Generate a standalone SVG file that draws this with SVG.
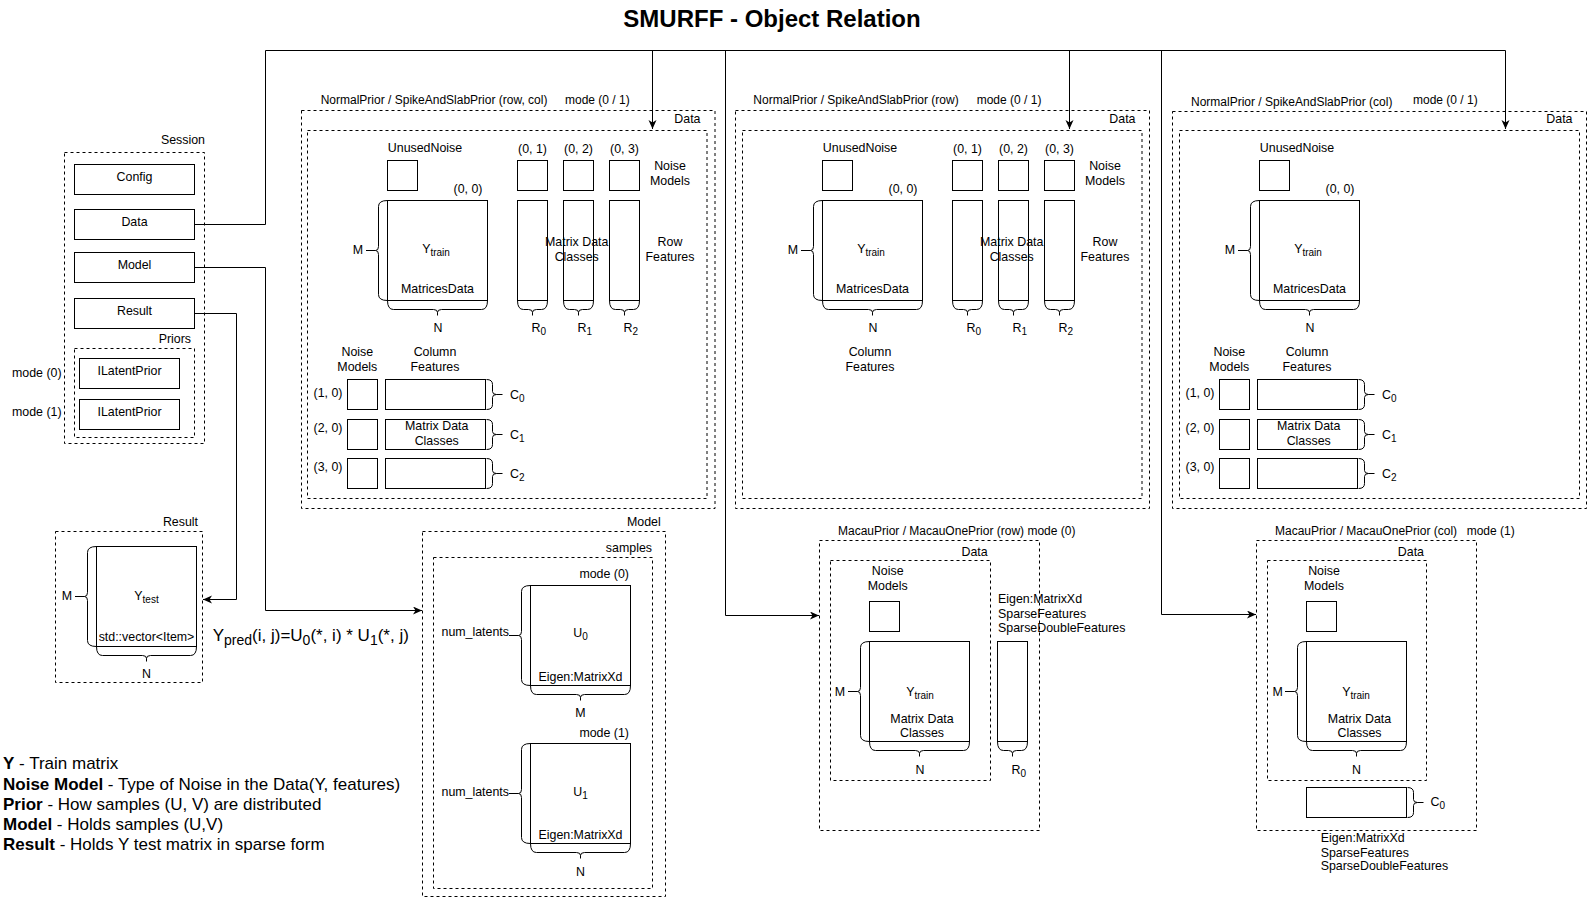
<svg xmlns="http://www.w3.org/2000/svg" width="1587" height="899" viewBox="0 0 1587 899">
<style>
text{font-family:"Liberation Sans",Arial,Helvetica,sans-serif;font-size:12.4px;fill:#000}
.h{font-size:12px}
.m{text-anchor:middle}
.e{text-anchor:end}
.b{fill:#fff;stroke:#000;stroke-width:1}
.d{fill:none;stroke:#000;stroke-width:1;stroke-dasharray:3 3}
.br{fill:none;stroke:#000;stroke-width:1}
.c{fill:none;stroke:#000;stroke-width:1}
.s{font-size:10px}
.lg{font-size:17px}
.f{font-size:17px}
.fs{font-size:14px}
.ttl{font-size:24px;font-weight:bold}
</style>
<defs>
<marker id="arr" markerUnits="userSpaceOnUse" markerWidth="10" markerHeight="10" refX="9" refY="4" orient="auto"><path d="M0,0 L9,4 L0,8 L2.5,4 Z" fill="#000"/></marker>
<path id="bM" class="br" d="M0,0 Q-9,0 -9,6 V46 Q-9,50 -12,50 Q-9,50 -9,54 V94 Q-9,100 0,100 M-21.5,50 H-12"/>
<path id="bN" class="br" d="M0,0 Q0,9 6,9 H46 Q50,9 50,12 Q50,9 54,9 H94 Q100,9 100,0 M50,12 V15"/>
<path id="bR" class="br" d="M0,0 Q0,9 6,9 H11 Q15,9 15,12 Q15,9 19,9 H24 Q30,9 30,0 M15,12 V15"/>
<path id="bC" class="br" d="M1,0 Q7,0 7,5 V12 Q7,15 11,15 Q7,15 7,18 V25 Q7,30 1,30 M11,15 H17"/>
</defs>
<rect width="1587" height="899" fill="#fff"/>

<g id="title"><text class="m ttl" x="772" y="26.5">SMURFF - Object Relation</text></g>

<g id="connectors">
<path class="c" d="M194,224.5 H265.5 V50.5 H1505.5 V129" marker-end="url(#arr)"/>
<path class="c" d="M652.5,50.5 V129" marker-end="url(#arr)"/>
<path class="c" d="M1069.5,50.5 V129" marker-end="url(#arr)"/>
<path class="c" d="M725.5,50.5 V615.5 H819" marker-end="url(#arr)"/>
<path class="c" d="M1161.5,50.5 V614.5 H1256" marker-end="url(#arr)"/>
<path class="c" d="M194,267.5 H265.5 V610.5 H422" marker-end="url(#arr)"/>
<path class="c" d="M194,313.5 H236.5 V599.5 H203" marker-end="url(#arr)"/>
</g>

<g id="session">
<text class="e" x="205" y="144">Session</text>
<rect class="d" x="64.5" y="152.5" width="140" height="291"/>
<rect class="b" x="74.5" y="164.5" width="120" height="30"/>
<text class="m" x="134.5" y="180.5">Config</text>
<rect class="b" x="74.5" y="209.5" width="120" height="30"/>
<text class="m" x="134.5" y="225.5">Data</text>
<rect class="b" x="74.5" y="252.5" width="120" height="30"/>
<text class="m" x="134.5" y="269">Model</text>
<rect class="b" x="74.5" y="298.5" width="120" height="30"/>
<text class="m" x="134.5" y="315">Result</text>
<text class="e" x="191" y="343">Priors</text>
<rect class="d" x="74.5" y="348.5" width="120" height="89"/>
<rect class="b" x="79.5" y="358.5" width="100" height="30"/>
<text class="m" x="129.5" y="374.5">ILatentPrior</text>
<rect class="b" x="79.5" y="399.5" width="100" height="30"/>
<text class="m" x="129.5" y="415.5">ILatentPrior</text>
<text x="12" y="377">mode (0)</text>
<text x="12" y="416">mode (1)</text>
</g>

<g id="prior-rowcol">
<text class="h" x="320.7" y="104">NormalPrior / SpikeAndSlabPrior (row, col)</text>
<text class="h" x="565" y="104">mode (0 / 1)</text>
<rect class="d" x="301.5" y="110.5" width="413.5" height="398"/>
<text class="e" x="700.5" y="123">Data</text>
<rect class="d" x="307.5" y="130.5" width="399.5" height="368"/>
<text class="m" x="425" y="152">UnusedNoise</text>
<rect class="b" x="387.5" y="160.5" width="30" height="30"/>
<text class="m" x="468" y="193">(0, 0)</text>
<rect class="b" x="387.5" y="200.5" width="100" height="100"/>
<use href="#bM" x="387.5" y="200.5"/>
<use href="#bN" x="387.5" y="300.5"/>
<text class="m" x="358" y="254">M</text>
<text class="m" x="438" y="332">N</text>
<text class="m" x="436" y="253">Y<tspan class="s" dy="3">train</tspan></text>
<text class="m" x="437.5" y="293">MatricesData</text>
<text class="m" x="532.5" y="153">(0, 1)</text>
<text class="m" x="578.5" y="153">(0, 2)</text>
<text class="m" x="624.5" y="153">(0, 3)</text>
<rect class="b" x="517.5" y="160.5" width="30" height="30"/>
<rect class="b" x="563.5" y="160.5" width="30" height="30"/>
<rect class="b" x="609.5" y="160.5" width="30" height="30"/>
<rect class="b" x="517.5" y="200.5" width="30" height="100"/>
<rect class="b" x="563.5" y="200.5" width="30" height="100"/>
<rect class="b" x="609.5" y="200.5" width="30" height="100"/>
<use href="#bR" x="517.5" y="300.5"/>
<use href="#bR" x="563.5" y="300.5"/>
<use href="#bR" x="609.5" y="300.5"/>
<text x="531.5" y="332">R<tspan class="s" dy="3">0</tspan></text>
<text x="577.5" y="332">R<tspan class="s" dy="3">1</tspan></text>
<text x="623.5" y="332">R<tspan class="s" dy="3">2</tspan></text>
<text class="m" x="670" y="170">Noise</text>
<text class="m" x="670" y="184.7">Models</text>
<text class="m" x="670" y="246.3">Row</text>
<text class="m" x="670" y="260.7">Features</text>
<text class="m" x="576.7" y="246.3">Matrix Data</text>
<text class="m" x="576.7" y="260.7">Classes</text>
<text class="m" x="357.3" y="355.7">Noise</text>
<text class="m" x="357.3" y="370.7">Models</text>
<text class="m" x="435" y="355.7">Column</text>
<text class="m" x="435" y="370.7">Features</text>
<rect class="b" x="347.5" y="379.5" width="30" height="30"/>
<rect class="b" x="385.5" y="379.5" width="100" height="30"/>
<use href="#bC" x="485.5" y="379.5"/>
<rect class="b" x="347.5" y="419.5" width="30" height="30"/>
<rect class="b" x="385.5" y="419.5" width="100" height="30"/>
<use href="#bC" x="485.5" y="419.5"/>
<rect class="b" x="347.5" y="458.5" width="30" height="30"/>
<rect class="b" x="385.5" y="458.5" width="100" height="30"/>
<use href="#bC" x="485.5" y="458.5"/>
<text class="m" x="328" y="397.3">(1, 0)</text>
<text class="m" x="328" y="432.3">(2, 0)</text>
<text class="m" x="328" y="470.7">(3, 0)</text>
<text x="510" y="399">C<tspan class="s" dy="3">0</tspan></text>
<text x="510" y="439">C<tspan class="s" dy="3">1</tspan></text>
<text x="510" y="478">C<tspan class="s" dy="3">2</tspan></text>
<text class="m" x="436.7" y="429.7">Matrix Data</text>
<text class="m" x="436.7" y="444.7">Classes</text>
</g>

<g id="prior-row">
<text class="h" x="753.3" y="104">NormalPrior / SpikeAndSlabPrior (row)</text>
<text class="h" x="976.7" y="104">mode (0 / 1)</text>
<rect class="d" x="735.5" y="110.5" width="414" height="398"/>
<text class="e" x="1135.5" y="123">Data</text>
<rect class="d" x="742.5" y="130.5" width="399.5" height="368"/>
<text class="m" x="860" y="152">UnusedNoise</text>
<rect class="b" x="822.5" y="160.5" width="30" height="30"/>
<text class="m" x="903" y="193">(0, 0)</text>
<rect class="b" x="822.5" y="200.5" width="100" height="100"/>
<use href="#bM" x="822.5" y="200.5"/>
<use href="#bN" x="822.5" y="300.5"/>
<text class="m" x="793" y="254">M</text>
<text class="m" x="873" y="332">N</text>
<text class="m" x="871" y="253">Y<tspan class="s" dy="3">train</tspan></text>
<text class="m" x="872.5" y="293">MatricesData</text>
<text class="m" x="967.5" y="153">(0, 1)</text>
<text class="m" x="1013.5" y="153">(0, 2)</text>
<text class="m" x="1059.5" y="153">(0, 3)</text>
<rect class="b" x="952.5" y="160.5" width="30" height="30"/>
<rect class="b" x="998.5" y="160.5" width="30" height="30"/>
<rect class="b" x="1044.5" y="160.5" width="30" height="30"/>
<rect class="b" x="952.5" y="200.5" width="30" height="100"/>
<rect class="b" x="998.5" y="200.5" width="30" height="100"/>
<rect class="b" x="1044.5" y="200.5" width="30" height="100"/>
<use href="#bR" x="952.5" y="300.5"/>
<use href="#bR" x="998.5" y="300.5"/>
<use href="#bR" x="1044.5" y="300.5"/>
<text x="966.5" y="332">R<tspan class="s" dy="3">0</tspan></text>
<text x="1012.5" y="332">R<tspan class="s" dy="3">1</tspan></text>
<text x="1058.5" y="332">R<tspan class="s" dy="3">2</tspan></text>
<text class="m" x="1105" y="170">Noise</text>
<text class="m" x="1105" y="184.7">Models</text>
<text class="m" x="1105" y="246.3">Row</text>
<text class="m" x="1105" y="260.7">Features</text>
<text class="m" x="1011.7" y="246.3">Matrix Data</text>
<text class="m" x="1011.7" y="260.7">Classes</text>
<text class="m" x="870" y="355.7">Column</text>
<text class="m" x="870" y="370.7">Features</text>
</g>

<g id="prior-col">
<text class="h" x="1191" y="105.5">NormalPrior / SpikeAndSlabPrior (col)</text>
<text class="h" x="1413" y="104">mode (0 / 1)</text>
<rect class="d" x="1172.5" y="111.5" width="414" height="397"/>
<text class="e" x="1572.5" y="123">Data</text>
<rect class="d" x="1179.5" y="130.5" width="400" height="368"/>
<text class="m" x="1297" y="152">UnusedNoise</text>
<rect class="b" x="1259.5" y="160.5" width="30" height="30"/>
<text class="m" x="1340" y="193">(0, 0)</text>
<rect class="b" x="1259.5" y="200.5" width="100" height="100"/>
<use href="#bM" x="1259.5" y="200.5"/>
<use href="#bN" x="1259.5" y="300.5"/>
<text class="m" x="1230" y="254">M</text>
<text class="m" x="1310" y="332">N</text>
<text class="m" x="1308" y="253">Y<tspan class="s" dy="3">train</tspan></text>
<text class="m" x="1309.5" y="293">MatricesData</text>
<text class="m" x="1229.3" y="355.7">Noise</text>
<text class="m" x="1229.3" y="370.7">Models</text>
<text class="m" x="1307" y="355.7">Column</text>
<text class="m" x="1307" y="370.7">Features</text>
<rect class="b" x="1219.5" y="379.5" width="30" height="30"/>
<rect class="b" x="1257.5" y="379.5" width="100" height="30"/>
<use href="#bC" x="1357.5" y="379.5"/>
<rect class="b" x="1219.5" y="419.5" width="30" height="30"/>
<rect class="b" x="1257.5" y="419.5" width="100" height="30"/>
<use href="#bC" x="1357.5" y="419.5"/>
<rect class="b" x="1219.5" y="458.5" width="30" height="30"/>
<rect class="b" x="1257.5" y="458.5" width="100" height="30"/>
<use href="#bC" x="1357.5" y="458.5"/>
<text class="m" x="1200" y="397.3">(1, 0)</text>
<text class="m" x="1200" y="432.3">(2, 0)</text>
<text class="m" x="1200" y="470.7">(3, 0)</text>
<text x="1382" y="399">C<tspan class="s" dy="3">0</tspan></text>
<text x="1382" y="439">C<tspan class="s" dy="3">1</tspan></text>
<text x="1382" y="478">C<tspan class="s" dy="3">2</tspan></text>
<text class="m" x="1308.7" y="429.7">Matrix Data</text>
<text class="m" x="1308.7" y="444.7">Classes</text>
</g>

<g id="result">
<text class="e" x="198" y="526">Result</text>
<rect class="d" x="55.5" y="531.5" width="147" height="151"/>
<rect class="b" x="96.5" y="546.5" width="100" height="100"/>
<use href="#bM" x="96.5" y="546.5"/>
<use href="#bN" x="96.5" y="646.5"/>
<text class="m" x="67" y="600">M</text>
<text class="m" x="146.5" y="678">N</text>
<text class="m" x="146.5" y="600">Y<tspan class="s" dy="3">test</tspan></text>
<text class="m" x="146.5" y="641">std::vector&lt;Item&gt;</text>
<text class="f" x="212.7" y="641">Y<tspan class="fs" dy="4">pred</tspan><tspan dy="-4">(i, j)=U</tspan><tspan class="fs" dy="4">0</tspan><tspan dy="-4">(*, i) * U</tspan><tspan class="fs" dy="4">1</tspan><tspan dy="-4">(*, j)</tspan></text>
</g>

<g id="model">
<text class="e" x="660.7" y="526">Model</text>
<rect class="d" x="422.5" y="531.5" width="243" height="365"/>
<text class="e" x="652" y="552">samples</text>
<rect class="d" x="433.5" y="557.5" width="219" height="331"/>
<text class="e" x="629" y="578">mode (0)</text>
<rect class="b" x="530.5" y="585.5" width="100" height="100"/>
<use href="#bM" x="530.5" y="585.5"/>
<use href="#bN" x="530.5" y="685.5"/>
<text class="e" x="509" y="636">num_latents</text>
<text class="m" x="580.5" y="717">M</text>
<text class="m" x="580.5" y="636.5">U<tspan class="s" dy="3">0</tspan></text>
<text class="m" x="580.5" y="681">Eigen:MatrixXd</text>
<text class="e" x="629" y="737">mode (1)</text>
<rect class="b" x="530.5" y="743.5" width="100" height="100"/>
<use href="#bM" x="530.5" y="743.5"/>
<use href="#bN" x="530.5" y="843.5"/>
<text class="e" x="509" y="795.7">num_latents</text>
<text class="m" x="580.5" y="875.7">N</text>
<text class="m" x="580.5" y="795.7">U<tspan class="s" dy="3">1</tspan></text>
<text class="m" x="580.5" y="839">Eigen:MatrixXd</text>
</g>

<g id="macau-row">
<text class="h" x="838" y="534.7">MacauPrior / MacauOnePrior (row) mode (0)</text>
<rect class="d" x="819.5" y="540.5" width="220" height="290"/>
<text class="e" x="987.7" y="555.7">Data</text>
<rect class="d" x="830.5" y="560.5" width="160" height="220"/>
<text class="m" x="887.7" y="575">Noise</text>
<text class="m" x="887.7" y="590">Models</text>
<rect class="b" x="869.5" y="601.5" width="30" height="30"/>
<rect class="b" x="869.5" y="641.5" width="100" height="100"/>
<use href="#bM" x="869.5" y="641.5"/>
<use href="#bN" x="869.5" y="741.5"/>
<text class="m" x="840" y="695.7">M</text>
<text class="m" x="920" y="774">N</text>
<text class="m" x="920" y="695.7">Y<tspan class="s" dy="3">train</tspan></text>
<text class="m" x="922" y="723">Matrix Data</text>
<text class="m" x="922" y="737">Classes</text>
<rect class="b" x="997.5" y="641.5" width="30" height="100"/>
<use href="#bR" x="997.5" y="741.5"/>
<text x="1011.5" y="774">R<tspan class="s" dy="3">0</tspan></text>
<text x="998" y="603">Eigen:MatrixXd</text>
<text x="998" y="617.7">SparseFeatures</text>
<text x="998" y="631.7">SparseDoubleFeatures</text>
</g>

<g id="macau-col">
<text class="h" x="1275" y="534.7">MacauPrior / MacauOnePrior (col)</text>
<text class="h" x="1466.7" y="534.7">mode (1)</text>
<rect class="d" x="1256.5" y="540.5" width="220" height="290"/>
<text class="e" x="1424" y="555.7">Data</text>
<rect class="d" x="1267.5" y="560.5" width="159" height="220"/>
<text class="m" x="1324" y="575">Noise</text>
<text class="m" x="1324" y="590">Models</text>
<rect class="b" x="1306.5" y="601.5" width="30" height="30"/>
<rect class="b" x="1306.5" y="641.5" width="100" height="100"/>
<use href="#bM" x="1306.5" y="641.5"/>
<use href="#bN" x="1306.5" y="741.5"/>
<text class="m" x="1277.7" y="695.7">M</text>
<text class="m" x="1356.5" y="774">N</text>
<text class="m" x="1356" y="695.7">Y<tspan class="s" dy="3">train</tspan></text>
<text class="m" x="1359.5" y="723">Matrix Data</text>
<text class="m" x="1359.5" y="737">Classes</text>
<rect class="b" x="1306.5" y="787.5" width="100" height="30"/>
<use href="#bC" x="1406.5" y="787.5"/>
<text x="1430.5" y="806">C<tspan class="s" dy="3">0</tspan></text>
<text x="1320.7" y="842">Eigen:MatrixXd</text>
<text x="1320.7" y="856.7">SparseFeatures</text>
<text x="1320.7" y="869.7">SparseDoubleFeatures</text>
</g>

<g id="legend">
<text class="lg" x="3" y="769"><tspan font-weight="bold">Y</tspan> - Train matrix</text>
<text class="lg" x="3" y="789.5"><tspan font-weight="bold">Noise Model</tspan> - Type of Noise in the Data(Y, features)</text>
<text class="lg" x="3" y="809.8"><tspan font-weight="bold">Prior</tspan> - How samples (U, V) are distributed</text>
<text class="lg" x="3" y="830"><tspan font-weight="bold">Model</tspan> - Holds samples (U,V)</text>
<text class="lg" x="3" y="850.3"><tspan font-weight="bold">Result</tspan> - Holds Y test matrix in sparse form</text>
</g>
</svg>
